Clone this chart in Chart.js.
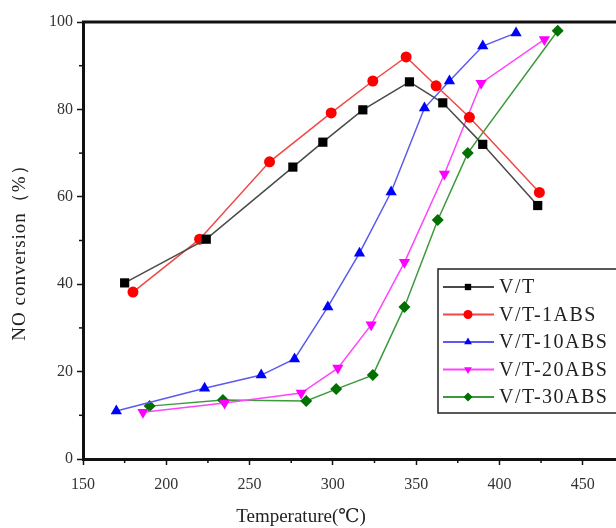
<!DOCTYPE html>
<html>
<head>
<meta charset="utf-8">
<script src="https://cdn.jsdelivr.net/npm/chart.js@4/dist/chart.umd.min.js"></script>
<style>
  html, body { margin: 0; padding: 0; background: #fff; overflow: hidden; }
  #wrap { width: 616px; height: 528px; position: relative; }
</style>
</head>
<body>
<div id="wrap"><canvas id="chart" width="616" height="528"></canvas></div>
<script>
// series: temperature (°C) and NO conversion (%)
var seriesNames = ["V/T", "V/T-1ABS", "V/T-10ABS", "V/T-20ABS", "V/T-30ABS"];

var vtTemp = [175, 224, 276, 294, 318, 346, 366, 390, 423];
var vtConv = [40.3, 50.3, 66.8, 72.5, 79.9, 86.3, 81.5, 72, 58];

var abs1Temp = [180, 220, 262, 299, 324, 344, 362, 382, 424];
var abs1Conv = [38.2, 50.3, 68, 79.2, 86.5, 92, 85.4, 78.2, 61];

var abs10Temp = [170, 223, 257, 277, 297, 316, 335, 355, 370, 390, 410];
var abs10Conv = [11, 16.2, 19.2, 22.9, 34.8, 47.1, 61.1, 80.3, 86.5, 94.5, 97.5];

var abs20Temp = [186, 235, 281, 303, 323, 343, 367, 389, 427];
var abs20Conv = [10.7, 12.8, 15.1, 20.8, 30.7, 45, 65.2, 86, 96];

var abs30Temp = [190, 234, 284, 302, 324, 343, 363, 381, 435];
var abs30Conv = [12.1, 13.5, 13.3, 16, 19.2, 34.8, 54.7, 70, 98];

var xTicks = [150, 200, 250, 300, 350, 400, 450];
var yTicks = [0, 20, 40, 60, 80, 100];

var serif = "'Liberation Serif', 'DejaVu Serif', serif";

function pts(xs, ys) {
    return xs.map(function (x, i) { return {x: x, y: ys[i]}; });
}

var styles = [
    {line: "#4a4a4a", point: "#000000", shape: "rect", r: 6.5, rot: 0},
    {line: "#f04848", point: "#ff0000", shape: "circle", r: 5.5, rot: 0},
    {line: "#5a5af0", point: "#0000ff", shape: "triangle", r: 6.5, rot: 0},
    {line: "#ff44ff", point: "#ff00ff", shape: "triangle", r: 6.5, rot: 180},
    {line: "#3c9a3c", point: "#007000", shape: "rectRot", r: 6, rot: 0}
];

var allData = [
    pts(vtTemp, vtConv),
    pts(abs1Temp, abs1Conv),
    pts(abs10Temp, abs10Conv),
    pts(abs20Temp, abs20Conv),
    pts(abs30Temp, abs30Conv)
];

var datasets = seriesNames.map(function (name, i) {
    var s = styles[i];
    return {
        label: name,
        data: allData[i],
        borderColor: s.line,
        borderWidth: 1.5,
        backgroundColor: s.point,
        pointBackgroundColor: s.point,
        pointBorderColor: s.point,
        pointBorderWidth: 0,
        pointStyle: s.shape,
        pointRadius: s.r,
        pointRotation: s.rot,
        tension: 0
    };
});

function marker(ctx, shape, x, y, r, rot, color) {
    ctx.save();
    ctx.fillStyle = color;
    ctx.translate(x, y);
    ctx.rotate(rot * Math.PI / 180);
    ctx.beginPath();
    if (shape === "rect") {
        ctx.rect(-r * 0.707, -r * 0.707, r * 1.414, r * 1.414);
    } else if (shape === "circle") {
        ctx.arc(0, 0, r, 0, Math.PI * 2);
    } else if (shape === "triangle") {
        ctx.moveTo(0, -r);
        ctx.lineTo(r * 0.866, r * 0.5);
        ctx.lineTo(-r * 0.866, r * 0.5);
        ctx.closePath();
    } else {
        ctx.moveTo(0, -r);
        ctx.lineTo(r, 0);
        ctx.lineTo(0, r);
        ctx.lineTo(-r, 0);
        ctx.closePath();
    }
    ctx.fill();
    ctx.restore();
}

// frame top line, minor ticks, axis titles and the boxed legend
var extras = {
    id: "extras",
    afterDraw: function (chart) {
        var ctx = chart.ctx;
        var area = chart.chartArea;
        var xs = chart.scales.x, ys = chart.scales.y;
        ctx.save();
        ctx.strokeStyle = "#111";
        ctx.lineWidth = 3;
        ctx.beginPath();
        ctx.moveTo(area.left - 1, area.top);
        ctx.lineTo(chart.width, area.top);
        ctx.stroke();

        // minor ticks
        ctx.lineWidth = 1.5;
        for (var v = 175; v < 470; v += 50) {
            var px = xs.getPixelForValue(v);
            ctx.beginPath();
            ctx.moveTo(px, area.bottom);
            ctx.lineTo(px, area.bottom + 4);
            ctx.stroke();
        }
        for (var w = 10; w < 100; w += 20) {
            var py = ys.getPixelForValue(w);
            ctx.beginPath();
            ctx.moveTo(area.left, py);
            ctx.lineTo(area.left - 4, py);
            ctx.stroke();
        }

        // axis titles
        ctx.fillStyle = "#222";
        ctx.font = "19px " + serif;
        ctx.textAlign = "center";
        ctx.textBaseline = "middle";
        ctx.fillText("Temperature(\u2103)", 301, 517);

        ctx.save();
        ctx.translate(20, 248);
        ctx.rotate(-Math.PI / 2);
        ctx.letterSpacing = "1px";
        ctx.fillText("NO conversion\uff08%\uff09", 0, 0);
        ctx.restore();

        // legend box
        var bx = 438, by = 269, bw = 180, bh = 144;
        ctx.lineWidth = 1.5;
        ctx.strokeStyle = "#222";
        ctx.fillStyle = "#fff";
        ctx.fillRect(bx, by, bw, bh);
        ctx.strokeRect(bx, by, bw, bh);
        ctx.font = "20px " + serif;
        ctx.letterSpacing = "1.5px";
        ctx.textAlign = "left";
        seriesNames.forEach(function (name, i) {
            var s = styles[i];
            var ly = 287 + i * 27.5;
            ctx.strokeStyle = s.line;
            ctx.lineWidth = 2;
            ctx.beginPath();
            ctx.moveTo(443, ly);
            ctx.lineTo(494, ly);
            ctx.stroke();
            marker(ctx, s.shape, 468, ly, 4.5, s.rot, s.point);
            ctx.fillStyle = "#222";
            ctx.fillText(name, 499, ly + 1);
        });
        ctx.restore();
    }
};

new Chart(document.getElementById("chart"), {
    type: "line",
    data: {datasets: datasets},
    plugins: [extras],
    options: {
        responsive: false,
        animation: false,
        maintainAspectRatio: false,
        layout: {autoPadding: false, padding: {top: 22, left: 0, right: 0, bottom: 0}},
        plugins: {
            legend: {display: false},
            tooltip: {enabled: false}
        },
        scales: {
            x: {
                type: "linear",
                min: 150,
                max: 470,
                afterBuildTicks: function (scale) {
                    scale.ticks = xTicks.map(function (v) { return {value: v}; });
                },
                afterFit: function (scale) { scale.height = 69; },
                border: {display: true, color: "#111", width: 3},
                grid: {drawOnChartArea: false, drawTicks: true, tickLength: 6, tickColor: "#111", tickWidth: 1.5},
                ticks: {
                    color: "#333",
                    font: {family: serif, size: 16},
                    padding: 10,
                    maxRotation: 0,
                    autoSkip: false
                },
                title: {display: false}
            },
            y: {
                min: 0,
                max: 100,
                afterBuildTicks: function (scale) {
                    scale.ticks = yTicks.map(function (v) { return {value: v}; });
                },
                afterFit: function (scale) { scale.width = 83; },
                border: {display: true, color: "#111", width: 3},
                grid: {drawOnChartArea: false, drawTicks: true, tickLength: 6, tickColor: "#111", tickWidth: 1.5},
                ticks: {
                    color: "#333",
                    font: {family: serif, size: 16},
                    padding: 4
                },
                title: {display: false}
            }
        }
    }
});
</script>
</body>
</html>
